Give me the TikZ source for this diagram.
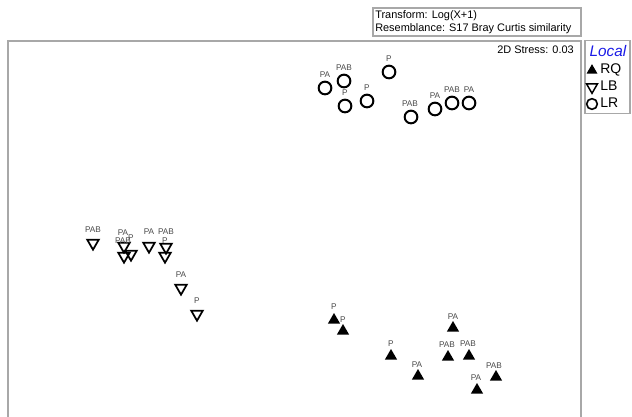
\documentclass[tikz,border=0pt]{standalone}
\usepackage{fontspec}
\setmainfont{Liberation Sans}
\usetikzlibrary{shapes.geometric}
\definecolor{framegray}{HTML}{A8A8A8}
\definecolor{labgray}{HTML}{4A4A4A}
\definecolor{localblue}{HTML}{1A1AE6}
\tikzset{
  lr/.style={circle, draw=black, line width=1.5pt, minimum size=9.5pt, inner sep=0pt},
  lb/.style={regular polygon, regular polygon sides=3, shape border rotate=180, draw=black, line width=1.3pt, minimum size=10pt, inner sep=0pt},
  rq/.style={regular polygon, regular polygon sides=3, fill=black, draw=none, minimum size=10.5pt, inner sep=0pt},
  lab/.style={font=\fontsize{6.2}{7}\selectfont, text=labgray, inner sep=0pt},
  frm/.style={draw=framegray, line width=1.2pt},
  bigtxt/.style={font=\fontsize{8.2}{10}\selectfont, inner sep=0pt},
  legtxt/.style={font=\fontsize{10.5}{12}\selectfont, inner sep=0pt, anchor=west}
}
\begin{document}
\begin{tikzpicture}[x=0.75pt,y=-0.75pt]
\useasboundingbox (0,0) rectangle (632,417);
% frames
\coordinate (fbl) at (8,417);
\coordinate (ftl) at (8,41);
\coordinate (ftr) at (581,41);
\coordinate (fbr) at (581,417);
\draw[frm] (fbl) -- (ftl) -- (ftr) -- (fbr);
\node[draw=framegray, line width=0.9pt, minimum width=208*0.75pt, minimum height=28*0.75pt, inner sep=0pt] (tbox) at (477,22) {};
\node[bigtxt, anchor=west] (t1) at (375,15.5) {Transform: Log(X+1)};
\node[bigtxt, anchor=west] (t2) at (375,29) {Resemblance: S17 Bray Curtis similarity};
\node[bigtxt, anchor=east] (stress) at (574,50) {2D Stress: 0.03};
% legend
\node[draw=framegray, line width=1.2pt, minimum width=45*0.75pt, minimum height=73*0.75pt, inner sep=0pt] (legbox) at (607.5,77) {};
\node[font=\fontsize{11.5}{13}\selectfont\itshape, text=localblue, inner sep=0pt] (loc) at (608,51) {Local};
\node[rq, minimum size=9.5pt] (lrq) at (592,70.5) {};
\node[legtxt] (lrqt) at (600,70) {RQ};
\node[lb, minimum size=9.5pt, line width=1.1pt] (llb) at (592,87) {};
\node[legtxt] (llbt) at (600,86) {LB};
\node[lr, minimum size=8pt, line width=1.2pt] (llr) at (592,104) {};
\node[legtxt] (llrt) at (600,103) {LR};
% LR circles
\node[lr] (c1) at (325,88) {};  \node[lab] (c1l) at (325,75) {PA};
\node[lr] (c2) at (344,81) {};  \node[lab] (c2l) at (344,68) {PAB};
\node[lr] (c3) at (345,106) {}; \node[lab] (c3l) at (345,93) {P};
\node[lr] (c4) at (367,101) {}; \node[lab] (c4l) at (367,88) {P};
\node[lr] (c5) at (389,72) {};  \node[lab] (c5l) at (389,59) {P};
\node[lr] (c6) at (411,117) {}; \node[lab] (c6l) at (410,104) {PAB};
\node[lr] (c7) at (435,109) {}; \node[lab] (c7l) at (435,96) {PA};
\node[lr] (c8) at (452,103) {}; \node[lab] (c8l) at (452,90) {PAB};
\node[lr] (c9) at (469,103) {}; \node[lab] (c9l) at (469,90) {PA};
% LB open triangles
\node[lb] (b1) at (93,243) {};   \node[lab] (b1l) at (93,230) {PAB};
\node[lb] (b2) at (124,246) {};  \node[lab] (b2l) at (123,233) {PA};
\node[lb] (b3) at (124,256) {};  \node[lab] (b3l) at (123,241) {PAB};
\node[lb] (b4) at (131,254) {};  \node[lab] (b4l) at (131,238) {P};
\node[lb] (b5) at (149,246) {};  \node[lab] (b5l) at (149,232) {PA};
\node[lb] (b6) at (166,247) {};  \node[lab] (b6l) at (166,232) {PAB};
\node[lb] (b7) at (165,256) {};  \node[lab] (b7l) at (165,241) {P};
\node[lb] (b8) at (181,288) {};  \node[lab] (b8l) at (181,275) {PA};
\node[lb] (b9) at (197,314) {};  \node[lab] (b9l) at (197,301) {P};
% RQ filled triangles
\node[rq] (r1) at (334,320) {};  \node[lab] (r1l) at (334,307) {P};
\node[rq] (r2) at (343,331) {};  \node[lab] (r2l) at (343,320) {P};
\node[rq] (r3) at (391,356) {};  \node[lab] (r3l) at (391,344) {P};
\node[rq] (r4) at (418,376) {};  \node[lab] (r4l) at (417,365) {PA};
\node[rq] (r5) at (453,328) {};  \node[lab] (r5l) at (453,317) {PA};
\node[rq] (r6) at (448,357) {};  \node[lab] (r6l) at (447,345) {PAB};
\node[rq] (r7) at (469,356) {};  \node[lab] (r7l) at (468,344) {PAB};
\node[rq] (r8) at (496,377) {};  \node[lab] (r8l) at (494,366) {PAB};
\node[rq] (r9) at (477,390) {};  \node[lab] (r9l) at (476,378) {PA};
\end{tikzpicture}
\end{document}
